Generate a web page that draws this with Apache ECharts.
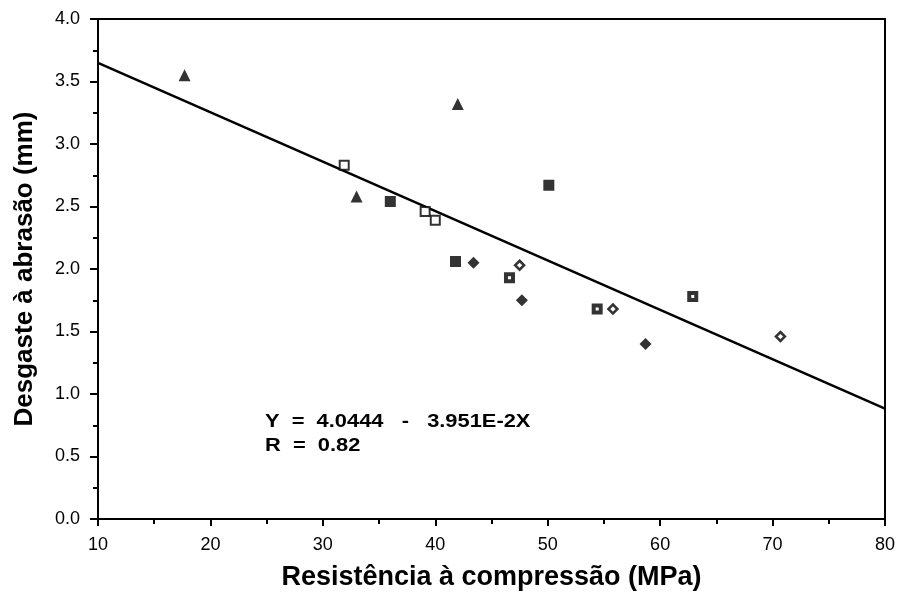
<!DOCTYPE html>
<html>
<head>
<meta charset="utf-8">
<script src="https://cdn.jsdelivr.net/npm/echarts@6/dist/echarts.min.js"></script>
<style>
  html, body { margin: 0; padding: 0; background: #fff; }
  #chart { width: 898px; height: 597px; }
</style>
</head>
<body>
<div id="chart"></div>
<script>
// Compressive strength (MPa) vs. abrasion wear (mm), grouped by mix type
const triangleX = [17.7, 42.0, 33.0];
const triangleY = [3.55, 3.32, 2.58];

const openSquareX = [31.9, 39.1, 40.0];
const openSquareY = [2.83, 2.46, 2.39];

const filledSquareX = [36.0, 50.1, 41.8];
const filledSquareY = [2.54, 2.67, 2.06];

const dotSquareX = [46.6, 54.4, 62.9];
const dotSquareY = [1.93, 1.68, 1.78];

const filledDiamondX = [43.4, 47.7, 58.7];
const filledDiamondY = [2.05, 1.75, 1.40];

const openDiamondX = [47.5, 55.8, 70.7];
const openDiamondY = [2.03, 1.68, 1.46];

// Linear fit: Y = a + b X
const INTERCEPT = 4.0444;
const SLOPE = -3.951e-2;
const fitRange = [10, 80];

const xTicks = [10, 20, 30, 40, 50, 60, 70, 80];
const yTicks = [0.0, 0.5, 1.0, 1.5, 2.0, 2.5, 3.0, 3.5, 4.0];

const xName = 'Resistência à compressão (MPa)';
const yName = 'Desgaste à abrasão (mm)';
const eqLine = 'Y  =  4.0444   -   3.951E-2X';
const rLine = 'R  =  0.82';

function pairs(xs, ys) { return xs.map((x, i) => [x, ys[i]]); }

const FONT = '"Liberation Sans", Arial, sans-serif';

const chart = echarts.init(document.getElementById('chart'), null, { renderer: 'canvas' });

const scatterBase = { type: 'scatter', z: 5 };

// Wide-set bold annotation text (slightly stretched horizontally)
function noteText(text, x, y) {
  return {
    type: 'text', x: x, y: y, scaleX: 1.15, scaleY: 1,
    style: { text: text, fontFamily: FONT, fontWeight: 'bold', fontSize: 19,
             fill: '#000', verticalAlign: 'middle' }
  };
}

chart.setOption({
  animation: false,
  backgroundColor: '#ffffff',
  grid: {
    left: 98, right: 13, top: 19, bottom: 78,
    show: true, borderColor: '#000', borderWidth: 2, backgroundColor: 'transparent'
  },
  xAxis: {
    type: 'value',
    min: xTicks[0], max: xTicks[xTicks.length - 1], interval: 10,
    name: xName, nameLocation: 'middle', nameGap: 45,
    nameTextStyle: { fontFamily: FONT, fontWeight: 'bold', fontSize: 27, color: '#000' },
    axisLine: { lineStyle: { color: '#000', width: 2 } },
    axisTick: { inside: false, length: 7, lineStyle: { color: '#000', width: 2 } },
    minorTick: { show: true, splitNumber: 2, length: 5, lineStyle: { color: '#000', width: 2 } },
    splitLine: { show: false },
    axisLabel: { margin: 17, fontFamily: FONT, fontSize: 18, color: '#000',
                 formatter: v => xTicks.includes(v) ? String(v) : '' }
  },
  yAxis: {
    type: 'value',
    min: yTicks[0], max: yTicks[yTicks.length - 1], interval: 0.5,
    name: yName, nameLocation: 'middle', nameGap: 60,
    nameTextStyle: { fontFamily: FONT, fontWeight: 'bold', fontSize: 26, color: '#000' },
    axisLine: { lineStyle: { color: '#000', width: 2 } },
    axisTick: { inside: false, length: 8, lineStyle: { color: '#000', width: 2 } },
    minorTick: { show: true, splitNumber: 2, length: 5, lineStyle: { color: '#000', width: 2 } },
    splitLine: { show: false },
    axisLabel: { margin: 18, fontFamily: FONT, fontSize: 18, color: '#000',
                 formatter: v => v.toFixed(1) }
  },
  graphic: [
    noteText(eqLine, 265, 422),
    noteText(rLine, 265, 446)
  ],
  series: [
    {
      type: 'line', z: 3, symbol: 'none', silent: true,
      lineStyle: { color: '#000', width: 2.5 },
      data: fitRange.map(x => [x, INTERCEPT + SLOPE * x])
    },
    Object.assign({}, scatterBase, {
      symbol: 'triangle', symbolSize: 12,
      itemStyle: { color: '#000' },
      data: pairs(triangleX, triangleY)
    }),
    Object.assign({}, scatterBase, {
      symbol: 'rect', symbolSize: 9,
      itemStyle: { color: '#fff', borderColor: '#000', borderWidth: 2 },
      data: pairs(openSquareX, openSquareY)
    }),
    Object.assign({}, scatterBase, {
      symbol: 'rect', symbolSize: 11,
      itemStyle: { color: '#000' },
      data: pairs(filledSquareX, filledSquareY)
    }),
    Object.assign({}, scatterBase, {
      symbol: 'rect', symbolSize: 7,
      itemStyle: { color: '#fff', borderColor: '#000', borderWidth: 4 },
      data: pairs(dotSquareX, dotSquareY)
    }),
    Object.assign({}, scatterBase, {
      symbol: 'diamond', symbolSize: 12,
      itemStyle: { color: '#000' },
      data: pairs(filledDiamondX, filledDiamondY)
    }),
    Object.assign({}, scatterBase, {
      symbol: 'diamond', symbolSize: 9,
      itemStyle: { color: '#fff', borderColor: '#000', borderWidth: 2.5 },
      data: pairs(openDiamondX, openDiamondY)
    })
  ]
});
</script>
</body>
</html>
